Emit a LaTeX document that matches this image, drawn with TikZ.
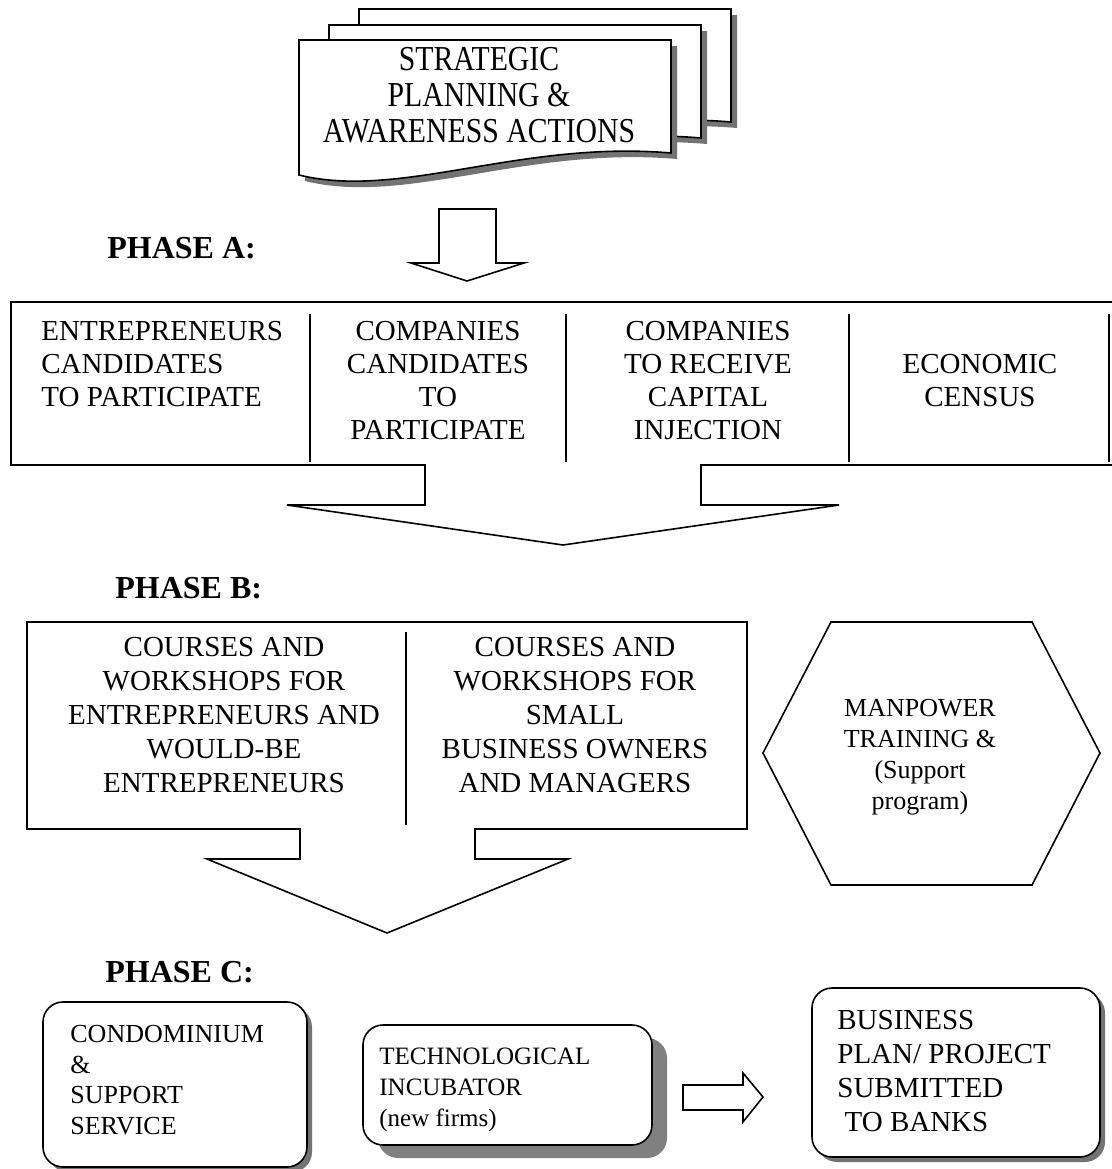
\documentclass[tikz,border=0pt]{standalone}
\usepackage{fontspec}
\setmainfont{Liberation Serif}
\newfontfamily\narrowserif{Liberation Serif}[FakeStretch=0.85]

\tikzset{
  frame/.style={line width=0.8pt},
  sep/.style={line width=1.4pt},
  shade/.style={fill=black!55},
  txt/.style={inner sep=0pt, align=center},
  phase/.style={anchor=west, inner sep=0pt, font=\fontsize{16}{19}\selectfont\bfseries},
}

\begin{document}
\begin{tikzpicture}[x=0.5pt, y=-0.5pt]
\fill[white] (0,0) rectangle (1112,1169);
\useasboundingbox (0,0) rectangle (1112,1169);

%feuilles du haut
\foreach \dx/\dy in {60/-31, 30/-15, 0/0} {
  \begin{scope}[shift={(\dx,\dy)}]
  \fill[shade] (305,46) -- (677,46) -- (677,159) .. controls (526,146) and (406,206) .. (305,181) -- cycle;
  \draw[frame, fill=white] (299,40) -- (671,40) -- (671,153) .. controls (520,140) and (400,200) .. (299,175) -- cycle;
  \end{scope}
}
\node[txt, font=\narrowserif\fontsize{17.5}{18}\selectfont] (strat) at (479,95) {STRATEGIC\\PLANNING \&\\AWARENESS ACTIONS};

%fleche vers la phase A
\draw[frame] (439,209) -- (496,209) -- (496,263) -- (524,263) -- (467,281) -- (411,263) -- (439,263) -- cycle;

\node[phase] (phaseA) at (107,248) {PHASE A:};

%cadre de la phase A
\draw[frame] (1120,302) -- (11,302) -- (11,465) -- (425,465) -- (425,505) -- (287,505) -- (563,545) -- (839,505) -- (701,505) -- (701,465) -- (1120,465);
\foreach \x in {310,566,849,1109}
  \draw[sep] (\x,314) -- (\x,462);

\node[txt, anchor=west, align=left, font=\fontsize{14.5}{16.5}\selectfont] (entA) at (41,364) {ENTREPRENEURS\\CANDIDATES\\TO PARTICIPATE};
\node[txt, font=\fontsize{14.5}{16.5}\selectfont] (compA) at (438,380.5) {COMPANIES\\CANDIDATES\\TO\\PARTICIPATE};
\node[txt, font=\fontsize{14.5}{16.5}\selectfont] (capA) at (708,380.5) {COMPANIES\\TO RECEIVE\\CAPITAL\\INJECTION};
\node[txt, font=\fontsize{14.5}{16.5}\selectfont] (census) at (980,380.5) {ECONOMIC\\CENSUS};

\node[phase] (phaseB) at (115,588) {PHASE B:};

%cadre de la phase B
\draw[frame] (27,622) -- (747,622) -- (747,829) -- (475,829) -- (475,859) -- (568,859) -- (387,933) -- (207,859) -- (300,859) -- (300,829) -- (27,829) -- cycle;
\draw[sep] (406,632) -- (406,825);

\node[txt, font=\fontsize{14.5}{17}\selectfont] (entB) at (224,715) {COURSES AND\\WORKSHOPS FOR\\ENTREPRENEURS AND\\WOULD-BE\\ENTREPRENEURS};
\node[txt, font=\fontsize{14.5}{17}\selectfont] (smallB) at (575,715) {COURSES AND\\WORKSHOPS FOR\\SMALL\\BUSINESS OWNERS\\AND MANAGERS};

%hexagone
\draw[frame] (763,753) -- (831,622) -- (1032,622) -- (1100,753) -- (1032,885) -- (831,885) -- cycle;
\node[txt, font=\fontsize{13}{15.5}\selectfont] (manpower) at (920,757) {MANPOWER\\TRAINING \&\\(Support\\program)};

\node[phase] (phaseC) at (105,972) {PHASE C:};

%condominium
\fill[shade, rounded corners=10pt] (48,1007) rectangle (312,1172);
\draw[frame, fill=white, rounded corners=10pt] (43,1002) rectangle (307,1167);
\node[txt, anchor=west, align=left, font=\fontsize{13}{15.35}\selectfont] (condo) at (70,1080) {CONDOMINIUM\\\&\\SUPPORT\\SERVICE};

%incubateur
\fill[black!50, rounded corners=10pt] (378,1038) rectangle (667,1158);
\draw[frame, fill=white, rounded corners=10pt] (363,1025) rectangle (652,1145);
\node[txt, anchor=west, align=left, font=\fontsize{12.5}{15.5}\selectfont] (incub) at (379,1090) {TECHNOLOGICAL\\INCUBATOR\\(new firms)};

%fleche
\draw[frame] (683,1085) -- (743,1085) -- (743,1073) -- (763,1097) -- (743,1122) -- (743,1110) -- (683,1110) -- cycle;

%business plan
\fill[shade, rounded corners=10pt] (817,993) rectangle (1105,1162);
\draw[frame, fill=white, rounded corners=10pt] (812,988) rectangle (1100,1157);
\node[txt, anchor=west, align=left, font=\fontsize{14.5}{17}\selectfont] (plan) at (837,1071) {BUSINESS\\PLAN/ PROJECT\\SUBMITTED\\~TO BANKS};

\end{tikzpicture}
\end{document}
